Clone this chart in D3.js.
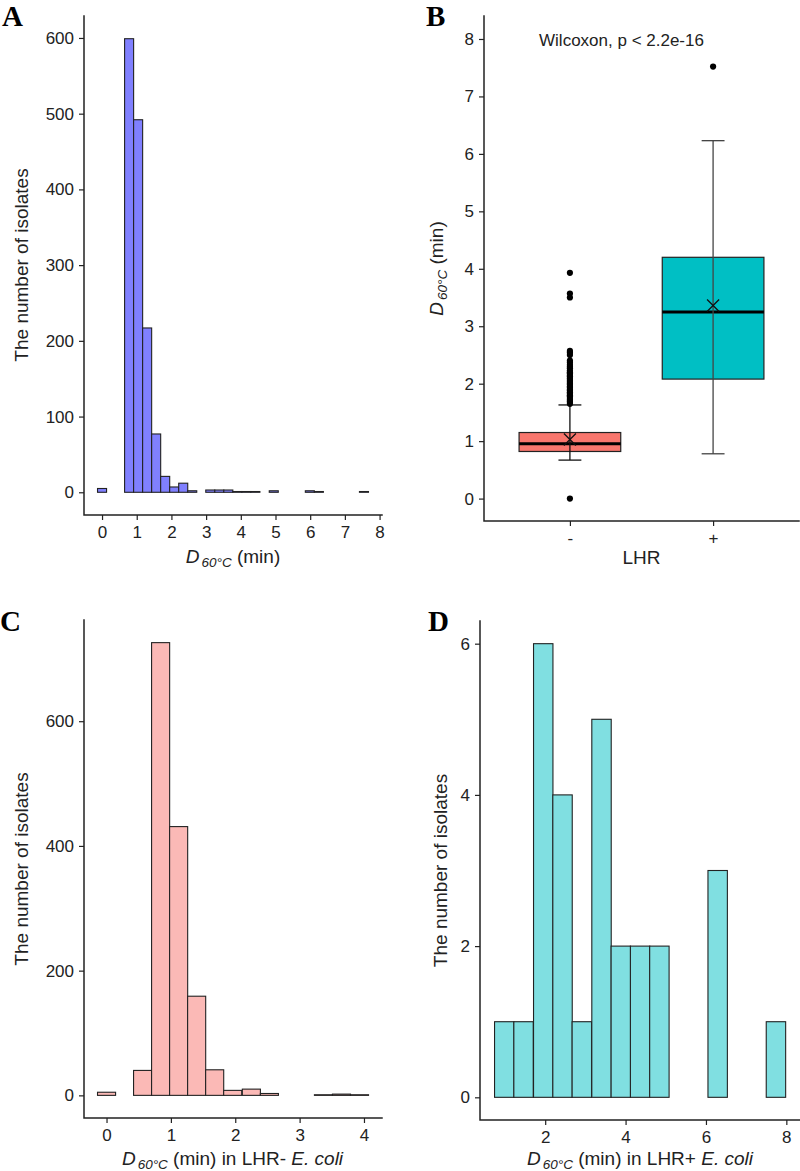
<!DOCTYPE html>
<html>
<head>
<meta charset="utf-8">
<script src="https://cdn.jsdelivr.net/npm/d3@7"></script>
<style>
  html, body { margin: 0; padding: 0; background: #ffffff; }
  svg { display: block; }
</style>
</head>
<body>
<script>
// ---------------- DATA ----------------
// Panel A: histogram of all isolates
const binWidthA = 0.2603;
const binStartA = [-0.13, 0.13, 0.39, 0.65, 0.91, 1.17, 1.43, 1.69, 1.95, 2.21, 2.47, 2.73, 2.99, 3.25, 3.51,
                   3.77, 4.03, 4.29, 4.55, 4.82, 5.08, 5.34, 5.60, 5.86, 6.12, 6.38, 6.64, 6.90, 7.16, 7.42];
const countsA = [5, 0, 0, 599, 492, 217, 77, 21, 7, 12, 2, 0, 3, 3, 3, 1, 1, 1, 0, 2, 0, 0, 0, 2, 1, 0, 0, 0, 0, 1];
const xTicksA = [0, 1, 2, 3, 4, 5, 6, 7, 8];
const yTicksA = [0, 100, 200, 300, 400, 500, 600];

// Panel B: boxplots by LHR status
const boxGroups = ["-", "+"];
const boxQ1 = [0.82, 2.08];
const boxMedian = [0.955, 3.25];
const boxQ3 = [1.15, 4.20];
const whiskerLow = [0.67, 0.78];
const whiskerHigh = [1.63, 6.23];
const boxMean = [1.03, 3.36];
const outliersMinus = [0, 1.65, 1.68, 1.70, 1.72, 1.75, 1.78, 1.80, 1.83, 1.85, 1.88, 1.90, 1.93, 1.95, 1.98,
                       2.00, 2.03, 2.05, 2.08, 2.10, 2.13, 2.15, 2.18, 2.20, 2.23, 2.27, 2.30, 2.33, 2.37, 2.40,
                       2.50, 2.54, 2.57, 3.50, 3.57, 3.93];
const outliersPlus = [7.52];
const yTicksB = [0, 1, 2, 3, 4, 5, 6, 7, 8];
const testLabel = "Wilcoxon, p < 2.2e-16";

// Panel C: LHR- isolates
const binWidthC = 0.2807;
const binStartC = [-0.14, 0.14, 0.42, 0.70, 0.98, 1.26, 1.54, 1.82, 2.11, 2.39, 2.67, 2.95, 3.23, 3.51, 3.79];
const countsC = [5, 0, 40, 726, 431, 159, 41, 8, 10, 3, 0, 0, 1, 2, 1];
const xTicksC = [0, 1, 2, 3, 4];
const yTicksC = [0, 200, 400, 600];

// Panel D: LHR+ isolates
const binWidthD = 0.483;
const binStartD = [0.74, 1.22, 1.71, 2.19, 2.67, 3.16, 3.64, 4.12, 4.60, 5.09, 5.57, 6.05, 6.54, 7.02, 7.50];
const countsD = [1, 1, 6, 4, 1, 5, 2, 2, 2, 0, 0, 3, 0, 0, 1];
const xTicksD = [2, 4, 6, 8];
const yTicksD = [0, 2, 4, 6];

// ---------------- DRAWING ----------------
const FONT = "'Liberation Sans', Arial, Helvetica, sans-serif";
const SERIF = "'Liberation Serif', 'Times New Roman', serif";
const INK = "#222222";

const svg = d3.select("body").append("svg")
  .attr("width", 800).attr("height", 1171)
  .style("font-family", FONT);

function styleAxis(g) {
  g.select(".domain").remove();
  g.selectAll(".tick line").attr("stroke", INK).attr("stroke-width", 1.2);
  g.selectAll(".tick text").attr("fill", INK).attr("font-size", 17).attr("font-family", FONT);
}

function axisLines(left, right, top, bottom) {
  svg.append("path")
    .attr("d", `M${left},${top}V${bottom}H${right}`)
    .attr("fill", "none").attr("stroke", INK).attr("stroke-width", 1.5)
    .attr("stroke-linecap", "square");
}

function drawAxes(x, y, xTicks, yTicks, left, bottom) {
  const gx = svg.append("g").attr("transform", `translate(0,${bottom})`)
    .call(d3.axisBottom(x).tickValues(xTicks).tickSizeOuter(0).tickSize(5).tickPadding(6)
      .tickFormat(d3.format("d")));
  styleAxis(gx);
  const gy = svg.append("g").attr("transform", `translate(${left},0)`)
    .call(d3.axisLeft(y).tickValues(yTicks).tickSizeOuter(0).tickSize(5).tickPadding(5)
      .tickFormat(d3.format("d")));
  styleAxis(gy);
}

function dLabel(sel, suffix, pieces) {
  // D (italic) with italic subscript 60°C, then the remainder
  sel.append("tspan").attr("font-style", "italic").text("D");
  sel.append("tspan").attr("font-style", "italic").attr("font-size", 13.5).attr("dy", 4).attr("dx", 2).text("60°C");
  sel.append("tspan").attr("dy", -4).text(suffix);
  if (pieces) {
    pieces.forEach(p => sel.append("tspan").attr("font-style", p.italic ? "italic" : null).text(p.t));
  }
}

function yTitle(xBase, yCenter, text) {
  svg.append("text")
    .attr("transform", `translate(${xBase},${yCenter}) rotate(-90)`)
    .attr("text-anchor", "middle").attr("font-size", 19).attr("fill", INK)
    .text(text);
}

function panelLetter(x, y, t) {
  svg.append("text").attr("x", x).attr("y", y)
    .attr("font-family", SERIF).attr("font-weight", "bold").attr("font-size", 29)
    .attr("fill", "#000").text(t);
}

function histogram(opts) {
  const x = d3.scaleLinear().domain(opts.xDomain).range([opts.left, opts.right]);
  const y = d3.scaleLinear().domain(opts.yDomain).range([opts.bottom, opts.top]);
  const data = opts.starts.map((s, i) => ({ s, c: opts.counts[i] }));
  svg.append("g").selectAll("rect").data(data).join("rect")
    .attr("x", d => x(d.s))
    .attr("width", d => x(d.s + opts.width) - x(d.s))
    .attr("y", d => y(d.c))
    .attr("height", d => y(0) - y(d.c))
    .attr("fill", opts.fill)
    .attr("stroke", INK).attr("stroke-width", 1.1);
  drawAxes(x, y, opts.xTicks, opts.yTicks, opts.left, opts.bottom);
  axisLines(opts.left, opts.right, opts.top, opts.bottom);
  return { x, y };
}

// ---- Panel A ----
histogram({
  left: 84, right: 382, top: 16, bottom: 515,
  xDomain: [-0.52, 8.07], yDomain: [-30, 629],
  starts: binStartA, width: binWidthA, counts: countsA,
  fill: "#8080FF", xTicks: xTicksA, yTicks: yTicksA
});
yTitle(28, 265, "The number of isolates");
dLabel(svg.append("text").attr("x", 233).attr("y", 563).attr("text-anchor", "middle")
  .attr("font-size", 19).attr("fill", INK), " (min)");
panelLetter(2, 26, "A");

// ---- Panel B ----
(function () {
  const left = 484, right = 799, top = 16, bottom = 521;
  const x = d3.scalePoint().domain(boxGroups).range([left, right]).padding(0.6);
  const y = d3.scaleLinear().domain([-0.39, 8.4]).range([bottom, top]);
  const step = x.step();
  const bw = step * 0.71;
  const cap = step * 0.16;
  const fills = ["#F8766D", "#00BFC4"];
  const wcol = ["#111111", "#444444"];
  const g = svg.append("g");
  boxGroups.forEach((grp, i) => {
    const cx = x(grp);
    g.append("rect")
      .attr("x", cx - bw / 2).attr("width", bw)
      .attr("y", y(boxQ3[i])).attr("height", y(boxQ1[i]) - y(boxQ3[i]))
      .attr("fill", fills[i]).attr("stroke", INK).attr("stroke-width", 1.2);
    g.append("line")
      .attr("x1", cx - bw / 2).attr("x2", cx + bw / 2)
      .attr("y1", y(boxMedian[i])).attr("y2", y(boxMedian[i]))
      .attr("stroke", "#000").attr("stroke-width", 3);
    g.append("line")
      .attr("x1", cx).attr("x2", cx)
      .attr("y1", y(whiskerLow[i])).attr("y2", y(whiskerHigh[i]))
      .attr("stroke", wcol[i]).attr("stroke-width", 1.3);
    [whiskerLow[i], whiskerHigh[i]].forEach(v => {
      g.append("line")
        .attr("x1", cx - cap / 2).attr("x2", cx + cap / 2)
        .attr("y1", y(v)).attr("y2", y(v))
        .attr("stroke", wcol[i]).attr("stroke-width", 1.3);
    });
    const my = y(boxMean[i]), s = 6;
    g.append("path")
      .attr("d", `M${cx - s},${my - s}L${cx + s},${my + s}M${cx - s},${my + s}L${cx + s},${my - s}`)
      .attr("stroke", "#111").attr("stroke-width", 1.3).attr("fill", "none");
  });
  g.selectAll("circle.om").data(outliersMinus).join("circle")
    .attr("cx", x("-")).attr("cy", d => y(d)).attr("r", 3.1).attr("fill", "#000");
  g.selectAll("circle.op").data(outliersPlus).join("circle")
    .attr("cx", x("+")).attr("cy", d => y(d)).attr("r", 3.1).attr("fill", "#000");

  const gx = svg.append("g").attr("transform", `translate(0,${bottom})`)
    .call(d3.axisBottom(x).tickSizeOuter(0).tickSize(5).tickPadding(6));
  styleAxis(gx);
  const gy = svg.append("g").attr("transform", `translate(${left},0)`)
    .call(d3.axisLeft(y).tickValues(yTicksB).tickSizeOuter(0).tickSize(5).tickPadding(5).tickFormat(d3.format("d")));
  styleAxis(gy);
  axisLines(left, right, top, bottom);

  svg.append("text").attr("x", 621.5).attr("y", 45.5).attr("text-anchor", "middle")
    .attr("font-size", 17).attr("fill", INK).text(testLabel);
  svg.append("text").attr("x", 641.5).attr("y", 564).attr("text-anchor", "middle")
    .attr("font-size", 19).attr("fill", INK).text("LHR");
  const yt = svg.append("text")
    .attr("transform", `translate(443,268.5) rotate(-90)`)
    .attr("text-anchor", "middle").attr("font-size", 19).attr("fill", INK);
  dLabel(yt, " (min)");
  panelLetter(426, 26, "B");
})();

// ---- Panel C ----
histogram({
  left: 84, right: 382, top: 620, bottom: 1118,
  xDomain: [-0.35, 4.28], yDomain: [-36.3, 762.3],
  starts: binStartC, width: binWidthC, counts: countsC,
  fill: "#FBB9B6", xTicks: xTicksC, yTicks: yTicksC
});
yTitle(28, 869, "The number of isolates");
dLabel(svg.append("text").attr("x", 232.5).attr("y", 1165).attr("text-anchor", "middle")
  .attr("font-size", 19).attr("fill", INK), " (min) in LHR- ", [{ t: "E. coli", italic: true }]);
panelLetter(0, 631, "C");

// ---- Panel D ----
histogram({
  left: 480, right: 800, top: 621, bottom: 1120,
  xDomain: [0.378, 8.34], yDomain: [-0.3, 6.3],
  starts: binStartD, width: binWidthD, counts: countsD,
  fill: "#80DFE1", xTicks: xTicksD, yTicks: yTicksD
});
yTitle(447, 870.5, "The number of isolates");
dLabel(svg.append("text").attr("x", 640).attr("y", 1165).attr("text-anchor", "middle")
  .attr("font-size", 19).attr("fill", INK), " (min) in LHR+ ", [{ t: "E. coli", italic: true }]);
panelLetter(428, 631, "D");
</script>
</body>
</html>
